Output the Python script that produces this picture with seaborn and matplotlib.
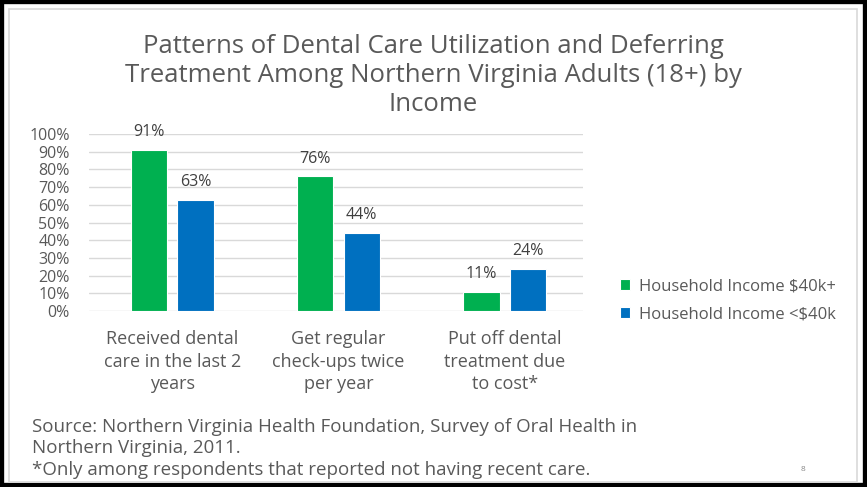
import pandas as pd
import numpy as np
import matplotlib.pyplot as plt
import seaborn as sns
from matplotlib.patches import Rectangle

# chart data
categories = ['Received dental\ncare in the last 2\nyears',
              'Get regular\ncheck-ups twice\nper year',
              'Put off dental\ntreatment due\nto cost*']
groups = ['Household Income $40k+', 'Household Income <$40k']
high_income = [0.91, 0.76, 0.11]
low_income = [0.63, 0.44, 0.24]
yticks = [0, 0.1, 0.2, 0.3, 0.4, 0.5, 0.6, 0.7, 0.8, 0.9, 1.0]

data = pd.DataFrame({
    'category': categories * 2,
    'group': [groups[0]] * 3 + [groups[1]] * 3,
    'value': high_income + low_income,
})

sns.set_style('white')
plt.rcParams['font.family'] = ['Open Sans', 'DejaVu Sans']
grey = '#595959'

fig = plt.figure(figsize=(8.67, 4.87), dpi=100)
# slide frame
fig.patches.append(Rectangle((0, 0), 1, 1, transform=fig.transFigure, fill=False,
                             edgecolor='black', linewidth=6, zorder=0))
fig.patches.append(Rectangle((9 / 867, 5 / 487), 848 / 867, 473 / 487, transform=fig.transFigure,
                             fill=False, edgecolor='#d9d9d9', linewidth=1.2, zorder=0))

ax = fig.add_axes([0.1027, 0.3614, 0.5697, 0.3634])
sns.barplot(data=data, x='category', y='value', hue='group', ax=ax,
            palette=['#00B050', '#0070C0'], saturation=1, width=0.56, gap=0.22,
            edgecolor='white', linewidth=0.8, zorder=3)

for cont in ax.containers:
    ax.bar_label(cont, labels=['{:.0f}%'.format(v.get_height() * 100) for v in cont],
                 padding=7, fontsize=11.5, color='#404040')

ax.set_ylim(0, 1)
ax.set_xlim(-0.5, 2.47)
ax.set_yticks(yticks)
ax.set_yticklabels(['{:.0f}%'.format(t * 100) for t in yticks], fontsize=11.5, color=grey)
ax.tick_params(axis='y', length=0, pad=14)
ax.tick_params(axis='x', length=0, pad=14, labelsize=13, labelcolor=grey)
for lbl in ax.get_xticklabels():
    lbl.set_linespacing(1.3)
ax.set_xlabel('')
ax.set_ylabel('')
ax.yaxis.grid(True, color='#d9d9d9', linewidth=1, zorder=0)
for s in ax.spines.values():
    s.set_visible(False)

ax.legend(loc='center left', bbox_to_anchor=(1.045, 0.06), frameon=False,
          fontsize=12, labelcolor=grey, handlelength=0.6, handleheight=0.6,
          handletextpad=0.5, labelspacing=0.75)

fig.text(0.5, 0.93, 'Patterns of Dental Care Utilization and Deferring\n'
         'Treatment Among Northern Virginia Adults (18+) by\nIncome',
         ha='center', va='top', fontsize=18.5, color=grey, linespacing=1.2)

fig.text(0.037, 0.142, 'Source: Northern Virginia Health Foundation, Survey of Oral Health in\n'
         'Northern Virginia, 2011.\n*Only among respondents that reported not having recent care.',
         ha='left', va='top', fontsize=13.5, color=grey, linespacing=1.25)
fig.text(0.926, 0.032, '8', fontsize=6, color='#888888', ha='center')

plt.savefig('out.png', dpi=100)
